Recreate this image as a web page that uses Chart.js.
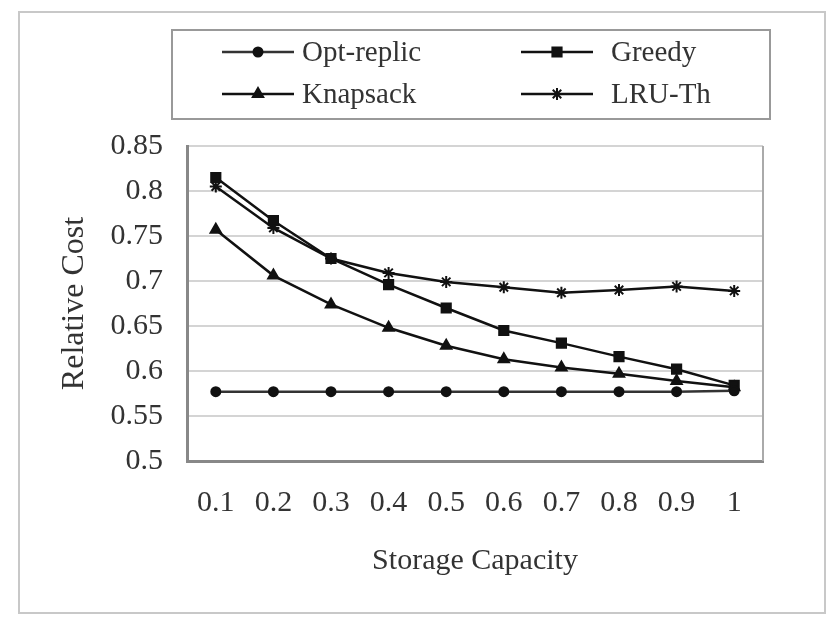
<!DOCTYPE html>
<html>
<head>
<meta charset="utf-8">
<script src="https://cdn.jsdelivr.net/npm/chart.js@4"></script>
<style>
  html, body { margin: 0; padding: 0; background: #fff; }
  #wrap { width: 830px; height: 619px; }
</style>
</head>
<body>
<div id="wrap"><canvas id="costChart" width="830" height="619"></canvas></div>
<script>
// ====== Data ======
const capacities = ["0.1", "0.2", "0.3", "0.4", "0.5", "0.6", "0.7", "0.8", "0.9", "1"];
const optReplic = [0.577, 0.577, 0.577, 0.577, 0.577, 0.577, 0.577, 0.577, 0.577, 0.578];
const greedy    = [0.815, 0.767, 0.725, 0.696, 0.670, 0.645, 0.631, 0.616, 0.602, 0.584];
const knapsack  = [0.757, 0.706, 0.674, 0.648, 0.628, 0.613, 0.604, 0.597, 0.589, 0.582];
const lruTh     = [0.805, 0.759, 0.725, 0.709, 0.699, 0.693, 0.687, 0.690, 0.694, 0.689];

const serif = "'Liberation Serif', 'DejaVu Serif', serif";
const ink = "#111";

// ====== Frame + legend box ======
const framePlugin = {
  id: "frame",
  beforeDraw(chart) {
    const c = chart.ctx;
    c.save();
    c.fillStyle = "#fff";
    c.fillRect(0, 0, chart.width, chart.height);
    // outer border
    c.strokeStyle = "#c8c8c8";
    c.lineWidth = 2;
    c.strokeRect(19, 12, 806, 601);
    c.restore();
  },
  afterDatasetsDraw(chart) {
    const c = chart.ctx;
    const a = chart.chartArea;
    c.save();
    // right edge of plot area
    c.strokeStyle = "#aaa";
    c.lineWidth = 2;
    c.beginPath();
    c.moveTo(a.right, a.top);
    c.lineTo(a.right, a.bottom);
    c.stroke();

    // legend
    c.strokeStyle = "#999";
    c.lineWidth = 2;
    c.strokeRect(172, 30, 598, 89);
    const cols = [222, 521];
    const rows = [52, 94];
    chart.data.datasets.forEach((ds, i) => {
      const x = cols[i % 2];
      const y = rows[Math.floor(i / 2)];
      c.strokeStyle = ds.borderColor;
      c.lineWidth = 2.5;
      c.beginPath();
      c.moveTo(x, y);
      c.lineTo(x + 72, y);
      c.stroke();
      c.fillStyle = ds.pointBackgroundColor;
      c.strokeStyle = ds.pointBorderColor;
      c.lineWidth = 2;
      Chart.helpers.drawPoint(c, {
        pointStyle: ds.pointStyle,
        radius: ds.pointRadius,
        rotation: 0,
        borderWidth: 2
      }, x + 36, y);
      c.fillStyle = "#333";
      c.font = "29px " + serif;
      c.textBaseline = "middle";
      c.fillText(ds.label, x + 80 + (i % 2) * 10, y + 1);
    });
    c.restore();
  }
};

// ====== Chart.js ======
const ctx = document.getElementById("costChart").getContext("2d");

function series(label, data, style, radius, color) {
  return {
    label: label,
    data: data,
    borderColor: color,
    borderWidth: 2.5,
    pointStyle: style,
    pointRadius: radius,
    pointBackgroundColor: ink,
    pointBorderColor: ink,
    pointBorderWidth: 2,
    fill: false,
    tension: 0
  };
}

const costChart = new Chart(ctx, {
  type: "line",
  data: {
    labels: capacities,
    datasets: [
      series("Opt-replic", optReplic, "circle", 4.5, "#333"),
      series("Greedy", greedy, "rect", 6.5, ink),
      series("Knapsack", knapsack, "triangle", 6, ink),
      series("LRU-Th", lruTh, "star", 6, ink)
    ]
  },
  options: {
    responsive: false,
    animation: false,
    layout: { padding: { left: 55, right: 67, top: 146, bottom: 36 } },
    plugins: {
      legend: { display: false },
      tooltip: { enabled: false }
    },
    scales: {
      x: {
        offset: true,
        grid: { display: false, drawTicks: false },
        border: { color: "#888", width: 3 },
        ticks: { color: "#333", font: { family: serif, size: 30 }, padding: 24, maxRotation: 0 },
        title: { display: true, text: "Storage Capacity", color: "#333", font: { family: serif, size: 30 }, padding: { top: 12 } },
        afterFit(scale) { scale.height = 122; }
      },
      y: {
        min: 0.5,
        max: 0.85,
        ticks: {
          stepSize: 0.05,
          color: "#333",
          font: { family: serif, size: 30 },
          padding: 24,
          callback: (v) => String(Math.round(v * 100) / 100)
        },
        grid: { color: "#d4d4d4", lineWidth: 2, drawTicks: false },
        border: { color: "#888", width: 3 },
        title: { display: true, text: "Relative Cost", color: "#333", font: { family: serif, size: 32 }, padding: 0 },
        afterFit(scale) { scale.width = 132; }
      }
    }
  },
  plugins: [framePlugin]
});
</script>
</body>
</html>
